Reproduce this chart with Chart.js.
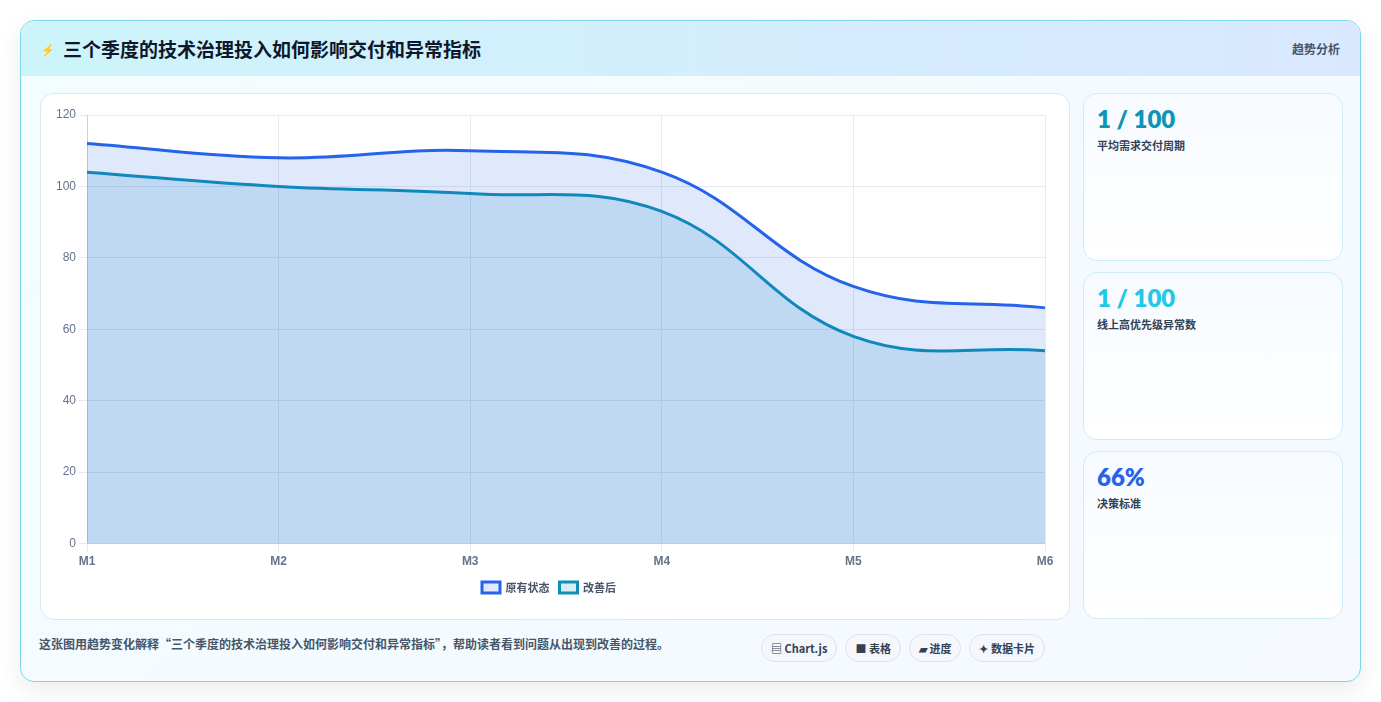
<!DOCTYPE html>
<html><head><meta charset="utf-8">
<script src="https://cdn.jsdelivr.net/npm/chart.js@4"></script>
<style>
body{margin:0;background:#fff;font-family:"Noto Sans CJK SC","Noto Sans",sans-serif;width:1381px;height:702px;overflow:hidden}
.card{position:absolute;left:20px;top:20px;width:1339px;height:660px;border:1px solid #7dd8ea;border-radius:14px;background:linear-gradient(135deg,#f2fdff,#f5f9ff);box-shadow:0 8px 24px rgba(0,0,0,.08);overflow:hidden}
.hdr{height:55px;background:linear-gradient(90deg,#cdf4fb,#d9e8ff);display:flex;align-items:center;padding:0 20px;}
.hdr h1{font-size:19px;margin:0;color:#0f172a;font-weight:700}
.hdr .ic{color:#2563eb;font-size:11px;margin-right:8px}
.hdr .r{margin-left:auto;font-size:12px;color:#475569;font-weight:600}
.panel{position:absolute;left:19px;top:72px;width:1028px;height:525px;background:#fff;border:1px solid #dde7f0;border-radius:14px}
.side{position:absolute;left:1062px;width:258px;height:166px;border:1px solid #cdeef5;border-radius:14px;background:linear-gradient(180deg,#f7fbff,#fff)}
.side .v{position:absolute;left:13px;top:10px;font-size:24px;font-weight:800;font-family:Lato,"Noto Sans",sans-serif}
.side .l{position:absolute;left:13px;top:43px;font-size:11px;color:#334155;font-weight:600}
.foot{position:absolute;left:18px;top:614px;font-size:12px;color:#475569;font-weight:600}
.tags{position:absolute;left:740px;top:613px;display:flex;gap:8px}
.tag{border:1px solid #dde3ea;border-radius:15px;background:#f5f7fa;font-size:11px;font-weight:700;color:#334155;padding:5px 9px}
</style></head><body>
<div class="card">
<div class="hdr"><span class="ic">⚡</span><h1>三个季度的技术治理投入如何影响交付和异常指标</h1><span class="r">趋势分析</span></div>
<div class="panel"><canvas id="c" width="1028" height="525"></canvas></div>
<div class="side" style="top:72px"><div class="v" style="color:#0e94b4">1 / 100</div><div class="l">平均需求交付周期</div></div>
<div class="side" style="top:251px"><div class="v" style="color:#22c9e6">1 / 100</div><div class="l">线上高优先级异常数</div></div>
<div class="side" style="top:430px"><div class="v" style="color:#2563eb">66%</div><div class="l">决策标准</div></div>
<div class="foot">这张图用趋势变化解释“三个季度的技术治理投入如何影响交付和异常指标”，帮助读者看到问题从出现到改善的过程。</div>
<div class="tags"><span class="tag">▤ Chart.js</span><span class="tag">■ 表格</span><span class="tag">▰ 进度</span><span class="tag">✦ 数据卡片</span></div>
</div>
<script>
const categories=["M1","M2","M3","M4","M5","M6"];
const seriesBefore=[112,108,110,104,72,66];
const seriesAfter=[104,100,98,93,58,54];
const yTicks=[0,20,40,60,80,100,120];
new Chart(document.getElementById('c'),{type:'line',
data:{labels:categories,datasets:[
{label:'原有状态',data:seriesBefore,borderColor:'#2563eb',backgroundColor:'rgba(37,99,235,0.14)',fill:'origin',tension:0.4,borderWidth:3,pointRadius:0},
{label:'改善后',data:seriesAfter,borderColor:'#0e8fb5',backgroundColor:'rgba(14,143,181,0.16)',fill:'origin',tension:0.4,borderWidth:3,pointRadius:0}]},
options:{responsive:false,animation:false,layout:{padding:{left:12,right:24,top:21,bottom:16}},
plugins:{legend:{position:'bottom',labels:{boxWidth:18,boxHeight:11,font:{size:11,weight:'600',family:'Noto Sans CJK SC'},color:'#475569'}}},
scales:{x:{offset:false,grid:{color:'#e5e9f0'},ticks:{color:'#64748b',font:{size:12,weight:'700'}}},
y:{min:0,max:120,grid:{color:'#e5e9f0'},afterBuildTicks:a=>{a.ticks=yTicks.map(v=>({value:v}))},ticks:{color:'#64748b',font:{size:12}}}}}});
</script>
</body></html>
